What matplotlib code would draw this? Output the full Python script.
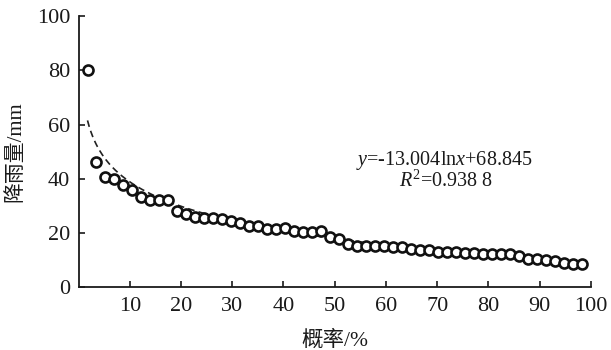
"""
Rainfall vs. exceedance probability with logarithmic trend line.
"""

import numpy as np
import matplotlib
matplotlib.use("Agg")
import matplotlib.pyplot as plt

# Data (n = 56, P = m / (n + 1) * 100)
rank = np.arange(1, 57)
probability = rank / 57 * 100
rainfall = [
    80.0, 46.3, 40.6, 40.1, 37.9, 35.8, 33.2, 32.2, 32.2, 32.2,
    28.3, 27.0, 26.0, 25.6, 25.6, 25.1, 24.3, 23.7, 22.7, 22.8,
    21.6, 21.6, 21.7, 20.7, 20.4, 20.4, 20.6, 18.5, 17.7, 16.0,
    15.4, 15.4, 15.4, 15.4, 15.0, 14.7, 14.3, 13.9, 13.6, 13.2,
    13.2, 13.2, 12.8, 12.6, 12.3, 12.3, 12.3, 12.3, 11.7, 10.5,
    10.5, 10.1, 9.7, 8.9, 8.5, 8.5,
]
fit_a = -13.004
fit_b = 68.845
x_ticks = [10, 20, 30, 40, 50, 60, 70, 80, 90, 100]
y_ticks = [0, 20, 40, 60, 80, 100]

SERIF = "Liberation Serif"
CJK_LABEL = [SERIF, "Noto Sans CJK SC"]
INK = "#1a1a1a"

plt.rcParams["mathtext.fontset"] = "custom"
plt.rcParams["mathtext.rm"] = SERIF
plt.rcParams["mathtext.it"] = SERIF + ":italic"


def main():
    fig = plt.figure(figsize=(6.11, 3.5), dpi=100)
    ax = fig.add_axes([0.1285, 0.179, 0.8385, 0.775])

    # trend line, drawn under the white-filled markers
    xs = np.linspace(probability[0], probability[-1], 300)
    ax.plot(xs, fit_a * np.log(xs) + fit_b, color="#222222",
            linewidth=1.2, linestyle=(0, (4, 2.5)), zorder=2)

    ax.plot(probability, rainfall, linestyle="none", marker="o",
            markersize=7.2, markerfacecolor="white", markeredgecolor="#111111",
            markeredgewidth=1.9, zorder=3)

    ax.set_xlim(0, 100)
    ax.set_ylim(0, 100)
    ax.set_xticks(x_ticks)
    ax.set_yticks(y_ticks)
    ax.tick_params(direction="in", length=4, width=1.2, colors=INK,
                   labelsize=16, pad=6)
    ax.tick_params(axis="x", pad=7)
    for lab in ax.get_xticklabels() + ax.get_yticklabels():
        lab.set_fontfamily(SERIF)

    for side in ("top", "right"):
        ax.spines[side].set_visible(False)
    for side in ("left", "bottom"):
        ax.spines[side].set_linewidth(1.3)
        ax.spines[side].set_color(INK)

    ax.set_xlabel("概率/%", family=CJK_LABEL, fontsize=15.5, color=INK)
    ax.xaxis.set_label_coords(0.5, -0.16)
    ax.set_ylabel("降雨量/mm", family=CJK_LABEL, fontsize=15, color=INK)
    ax.yaxis.set_label_coords(-0.103, 0.5)

    ax.text(71.4, 46.8, r"$y$=-13.004ln$x$+68.845", ha="center", va="center",
            fontsize=14.5, family=SERIF, color=INK)
    ax.text(71.8, 39.2, r"$R^2$=0.938 8", ha="center", va="center",
            fontsize=14.5, family=SERIF, color=INK)

    fig.savefig("out.png", dpi=100)


if __name__ == "__main__":
    main()
